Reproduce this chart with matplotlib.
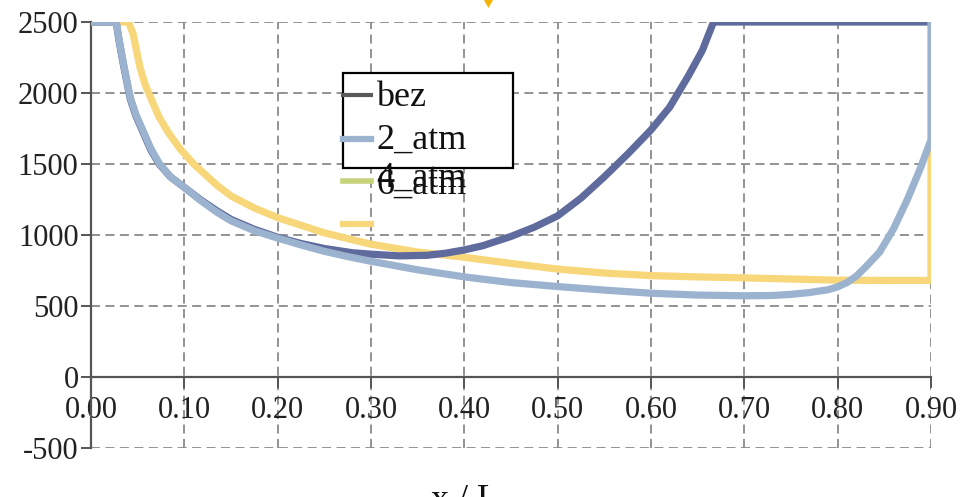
import matplotlib
matplotlib.use("Agg")
import matplotlib.pyplot as plt
from matplotlib.patches import Rectangle, Polygon
from matplotlib.lines import Line2D

plt.rcParams['font.family'] = ['Liberation Serif', 'DejaVu Serif']

# ---- data ----
bez_x = [0.0, 0.027, 0.030, 0.035, 0.042, 0.048, 0.056, 0.064, 0.073, 0.085, 0.10,
         0.117, 0.135, 0.15, 0.175, 0.20, 0.225, 0.25, 0.28, 0.30, 0.33, 0.36, 0.38,
         0.40, 0.42, 0.45, 0.475, 0.50, 0.525, 0.55, 0.575, 0.60, 0.62, 0.64, 0.655,
         0.667, 0.90]
bez_y = [2500, 2500, 2370, 2190, 1960, 1840, 1720, 1600, 1500, 1410, 1335,
         1250, 1170, 1110, 1040, 984, 940, 905, 875, 865, 853, 857, 872,
         895, 925, 990, 1055, 1135, 1260, 1410, 1570, 1740, 1900, 2120, 2300,
         2500, 2500]

atm2_x = [0.0, 0.027, 0.030, 0.035, 0.042, 0.048, 0.056, 0.064, 0.073, 0.085, 0.10,
          0.117, 0.135, 0.15, 0.175, 0.20, 0.225, 0.25, 0.275, 0.30, 0.35, 0.40,
          0.45, 0.50, 0.55, 0.60, 0.65, 0.70, 0.73, 0.75, 0.77, 0.79, 0.80, 0.81,
          0.82, 0.83, 0.845, 0.86, 0.875, 0.888, 0.90, 0.90]
atm2_y = [2500, 2500, 2380, 2200, 1970, 1850, 1730, 1610, 1505, 1410, 1335,
          1245, 1160, 1100, 1030, 978, 930, 885, 848, 815, 755, 705,
          665, 637, 612, 590, 577, 572, 574, 582, 595, 615, 635, 665,
          710, 775, 880, 1045, 1255, 1460, 1670, 2500]

atm6_x = [0.0, 0.040, 0.045, 0.0525, 0.058, 0.065, 0.073, 0.083, 0.095, 0.11, 0.12,
          0.135, 0.15, 0.175, 0.20, 0.25, 0.30, 0.35, 0.40, 0.45, 0.50, 0.55, 0.60,
          0.65, 0.70, 0.75, 0.80, 0.85, 0.90, 0.90]
atm6_y = [2500, 2500, 2420, 2180, 2060, 1950, 1830, 1720, 1610, 1500, 1440,
          1350, 1275, 1190, 1122, 1015, 935, 880, 843, 800, 760, 732, 714,
          705, 698, 690, 682, 680, 680, 1600]

legend_labels = ["bez", "2_atm", "4_atm", "6_atm"]
x_ticks = [0.0, 0.1, 0.2, 0.3, 0.4, 0.5, 0.6, 0.7, 0.8, 0.9]
y_ticks = [-500, 0, 500, 1000, 1500, 2000, 2500]

c_bez = '#5f6a9d'
c_atm2 = '#9cb3cf'
c_atm6 = '#f8d67a'
c_leg_bez = '#5a5a5a'
c_leg_atm4 = '#c6d37a'

fig = plt.figure(figsize=(9.63, 4.97), dpi=100)
ax = fig.add_axes([91/963, 1-448/497, 840/963, 426/497])

ax.set_xlim(0, 0.9)
ax.set_ylim(-500, 2500)

lw = 5.2
ax.plot(atm6_x, atm6_y, color=c_atm6, lw=lw, solid_capstyle='butt',
        solid_joinstyle='round', zorder=3)
ax.plot(bez_x, bez_y, color=c_bez, lw=lw, solid_capstyle='butt',
        solid_joinstyle='round', zorder=4)
ax.plot(atm2_x, atm2_y, color=c_atm2, lw=lw, solid_capstyle='butt',
        solid_joinstyle='round', zorder=5)

ax.set_xticks(x_ticks)
ax.set_xticklabels([f"{v:.2f}" for v in x_ticks])
ax.set_yticks(y_ticks)
ax.set_yticklabels([str(v) for v in y_ticks])

ax.grid(True, color='#8a8a8a', linestyle=(0, (5, 3)), linewidth=1.3, zorder=1)
ax.set_axisbelow(True)

for s in ['top', 'right']:
    ax.spines[s].set_visible(False)
ax.spines['bottom'].set_position(('data', 0))
ax.spines['bottom'].set_color('#555555')
ax.spines['bottom'].set_linewidth(1.6)
ax.spines['left'].set_color('#555555')
ax.spines['left'].set_linewidth(1.6)

ax.tick_params(axis='y', direction='out', length=7, width=1.4, color='#555555',
               labelsize=22, pad=2, labelcolor='#222222')
ax.tick_params(axis='x', direction='out', length=8, width=1.4, color='#555555',
               labelsize=22, pad=6, labelcolor='#222222')

# ---- legend (drawn manually to mimic the overflow) ----
ax.add_patch(Rectangle((0.300, 0.657), 0.202, 0.223, transform=ax.transAxes,
                       facecolor='white', edgecolor='black', lw=1.6, zorder=6))

def px2ax(px, py):
    return ((px - 91) / 840, (448 - py) / 426)

leg_items = [
    (95, c_leg_bez, 3, legend_labels[0], 97),
    (139, c_atm2, 4.5, legend_labels[1], 140),
    (181, c_leg_atm4, 4, legend_labels[2], 178),
    (224, c_atm6, 4.5, None, None),
]
for py, col, llw, lab, ty in leg_items:
    x0, y0 = px2ax(343, py)
    x1, _ = px2ax(371, py)
    ax.add_line(Line2D([x0, x1], [y0, y0], transform=ax.transAxes, color=col,
                       lw=llw, zorder=7, clip_on=False))
    if lab:
        tx, tyy = px2ax(376, ty)
        ax.text(tx, tyy, lab, transform=ax.transAxes, fontsize=26, va='center',
                ha='left', color='#111111', zorder=8)
tx, tyy = px2ax(376, 185)
ax.text(tx, tyy, legend_labels[3], transform=ax.transAxes, fontsize=26, va='center',
        ha='left', color='#111111', zorder=8)

# x label, cut off at the bottom of the canvas
fig.text(0.483, 1 - 484/497, "x / L", fontsize=26, ha='center', va='top',
         color='#111111')

# small yellow marker cut off at the top
fig.patches.append(Polygon([(484/963, 1.0), (493/963, 1.0), (488.5/963, 1 - 8/497)],
                           closed=True, transform=fig.transFigure,
                           facecolor='#f5b400', edgecolor='none'))

fig.savefig('out.png', dpi=100)
